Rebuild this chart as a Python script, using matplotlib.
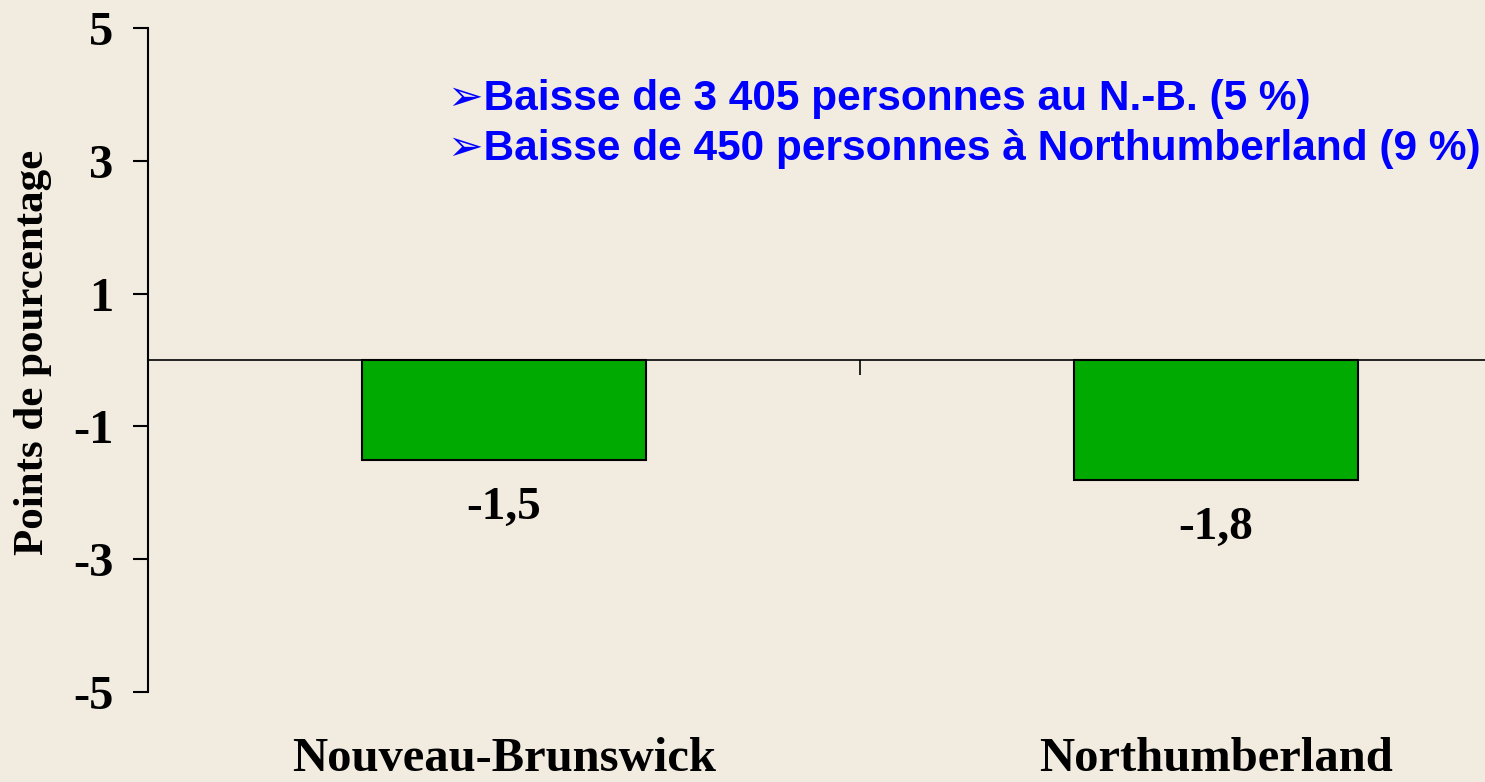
import matplotlib
matplotlib.use("Agg")
import matplotlib.pyplot as plt
import matplotlib.transforms as mtransforms

categories = ["Nouveau-Brunswick", "Northumberland"]
values = [-1.5, -1.8]
value_labels = ["-1,5", "-1,8"]
yticks = [5, 3, 1, -1, -3, -5]
ylabel = "Points de pourcentage"
notes = ["➢Baisse de 3 405 personnes au N.-B. (5 %)",
         "➢Baisse de 450 personnes à Northumberland (9 %)"]

bg = "#F1EBE0"
serif = ["Liberation Serif", "DejaVu Serif"]
sans = ["Liberation Sans", "DejaVu Sans"]

fig = plt.figure(figsize=(14.85, 7.82), dpi=100, facecolor=bg)
ax = fig.add_axes([148/1485, 90/782, 1424/1485, 664/782])
ax.set_facecolor(bg)
ax.patch.set_alpha(0)

x = list(range(len(categories)))
ax.bar(x, values, width=0.40, color="#00AA00", edgecolor="black", linewidth=1.5, zorder=3)

ax.set_xlim(-0.5, len(categories) - 0.5)
ax.set_ylim(-5, 5)
ax.set_yticks(yticks)
ax.set_yticklabels([str(t) for t in yticks], fontfamily=serif, fontweight="bold", fontsize=35)
ax.tick_params(axis="y", direction="out", length=11, width=1.5, pad=14)

ax.spines["top"].set_visible(False)
ax.spines["right"].set_visible(False)
ax.spines["left"].set_linewidth(1.5)
ax.spines["bottom"].set_position(("data", 0))
ax.spines["bottom"].set_linewidth(1.2)

ax.set_xticks([i + 0.5 for i in x[:-1]])
ax.set_xticklabels([])
ax.tick_params(axis="x", direction="out", length=11, width=1.2)

trans = mtransforms.blended_transform_factory(ax.transData, fig.transFigure)
for i, c in enumerate(categories):
    ax.text(i, 1/782, c, transform=trans, ha="center", va="bottom",
            fontfamily=serif, fontweight="bold", fontsize=35, clip_on=False)

for i, (v, lab) in enumerate(zip(values, value_labels)):
    ax.annotate(lab, (i, v), xytext=(0, -20), textcoords="offset points",
                ha="center", va="top", fontfamily=serif, fontweight="bold", fontsize=34)

fig.text(33/1485, 1 - 352/782, ylabel, rotation=90, ha="center", va="center",
         fontfamily=serif, fontweight="bold", fontsize=31)

for k, n in enumerate(notes):
    fig.text(448/1485, 1 - (110 + 50*k)/782, n, ha="left", va="baseline",
             color="#0000FF", fontfamily=sans, fontweight="bold", fontsize=30.5)

fig.savefig("out.png", dpi=100, facecolor=bg)
